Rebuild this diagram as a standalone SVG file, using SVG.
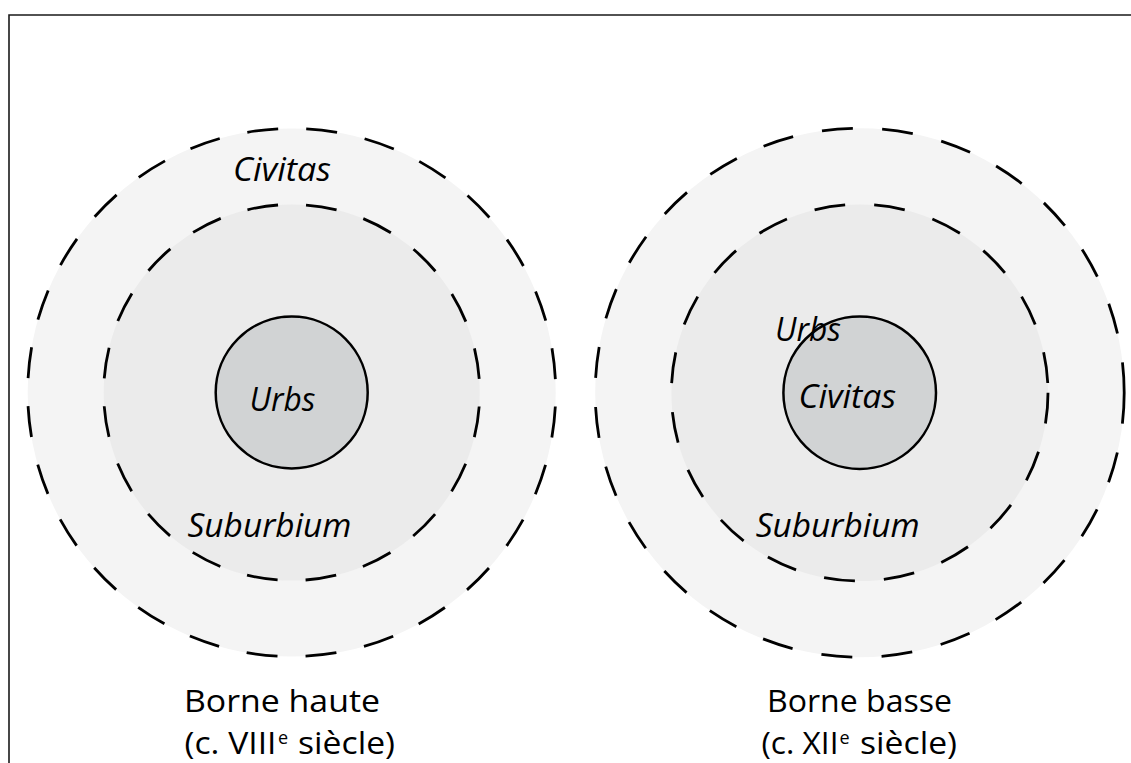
<svg xmlns="http://www.w3.org/2000/svg" width="1131" height="763" viewBox="0 0 1131 763">
<style>
.ring1{fill:#f4f4f4;stroke:#000;stroke-width:2.8}
.ring2{fill:#ebebeb;stroke:#000;stroke-width:2.8}
.core{fill:#d1d3d4;stroke:#000;stroke-width:2.5}
.it{font-family:"Open Sans","DejaVu Sans",sans-serif;font-style:italic;font-size:33px;fill:#000}
.lb{font-family:"Open Sans","DejaVu Sans",sans-serif;font-size:31px;fill:#000}
.sup{font-family:"Open Sans","DejaVu Sans",sans-serif;font-size:18px;fill:#000}
</style>
<rect width="1131" height="763" fill="#fff"/>
<path d="M9,763 V15 H1131" fill="none" stroke="#1a1a1a" stroke-width="1.6"/>

<g id="left-civitas">
<circle class="ring1" cx="291.7" cy="392.5" r="264" stroke-dasharray="31 28.24" stroke-dashoffset="45.1"/>
<text class="it" x="233" y="181" textLength="98" lengthAdjust="spacingAndGlyphs">Civitas</text>
</g>
<g id="left-suburbium">
<circle class="ring2" cx="291.7" cy="392.5" r="188" stroke-dasharray="31 28.06" stroke-dashoffset="45.03"/>
<text class="it" x="187.5" y="536.7" textLength="164" lengthAdjust="spacingAndGlyphs">Suburbium</text>
</g>
<g id="left-urbs">
<circle class="core" cx="291.7" cy="392.5" r="76"/>
<text class="it" x="249.5" y="410.7" textLength="66" lengthAdjust="spacingAndGlyphs">Urbs</text>
</g>
<g id="left-caption">
<text class="lb" x="184" y="712" textLength="196" lengthAdjust="spacingAndGlyphs">Borne haute</text>
<text class="lb" x="184.5" y="754" textLength="92" lengthAdjust="spacingAndGlyphs">(c. VIII</text>
<text class="sup" x="278" y="744">e</text>
<text class="lb" x="298" y="754" textLength="97" lengthAdjust="spacingAndGlyphs">siècle)</text>
</g>

<g id="right-outer">
<circle class="ring1" cx="859.7" cy="392.7" r="264.5" stroke-dasharray="31 29.4"/>
</g>
<g id="right-suburbium">
<circle class="ring2" cx="859.7" cy="392.7" r="188.3" stroke-dasharray="31 29.1"/>
<text class="it" x="755.7" y="536.7" textLength="164" lengthAdjust="spacingAndGlyphs">Suburbium</text>
</g>
<g id="right-civitas">
<circle class="core" cx="859.7" cy="392.7" r="76.3"/>
<text class="it" x="798.5" y="408.3" textLength="97.5" lengthAdjust="spacingAndGlyphs">Civitas</text>
</g>
<g id="right-urbs">
<text class="it" x="775" y="341" textLength="66" lengthAdjust="spacingAndGlyphs">Urbs</text>
</g>
<g id="right-caption">
<text class="lb" x="767" y="712" textLength="185" lengthAdjust="spacingAndGlyphs">Borne basse</text>
<text class="lb" x="761.5" y="754" textLength="77" lengthAdjust="spacingAndGlyphs">(c. XII</text>
<text class="sup" x="839.5" y="744">e</text>
<text class="lb" x="860" y="754" textLength="97" lengthAdjust="spacingAndGlyphs">siècle)</text>
</g>
<g id="connectors"/>
</svg>
